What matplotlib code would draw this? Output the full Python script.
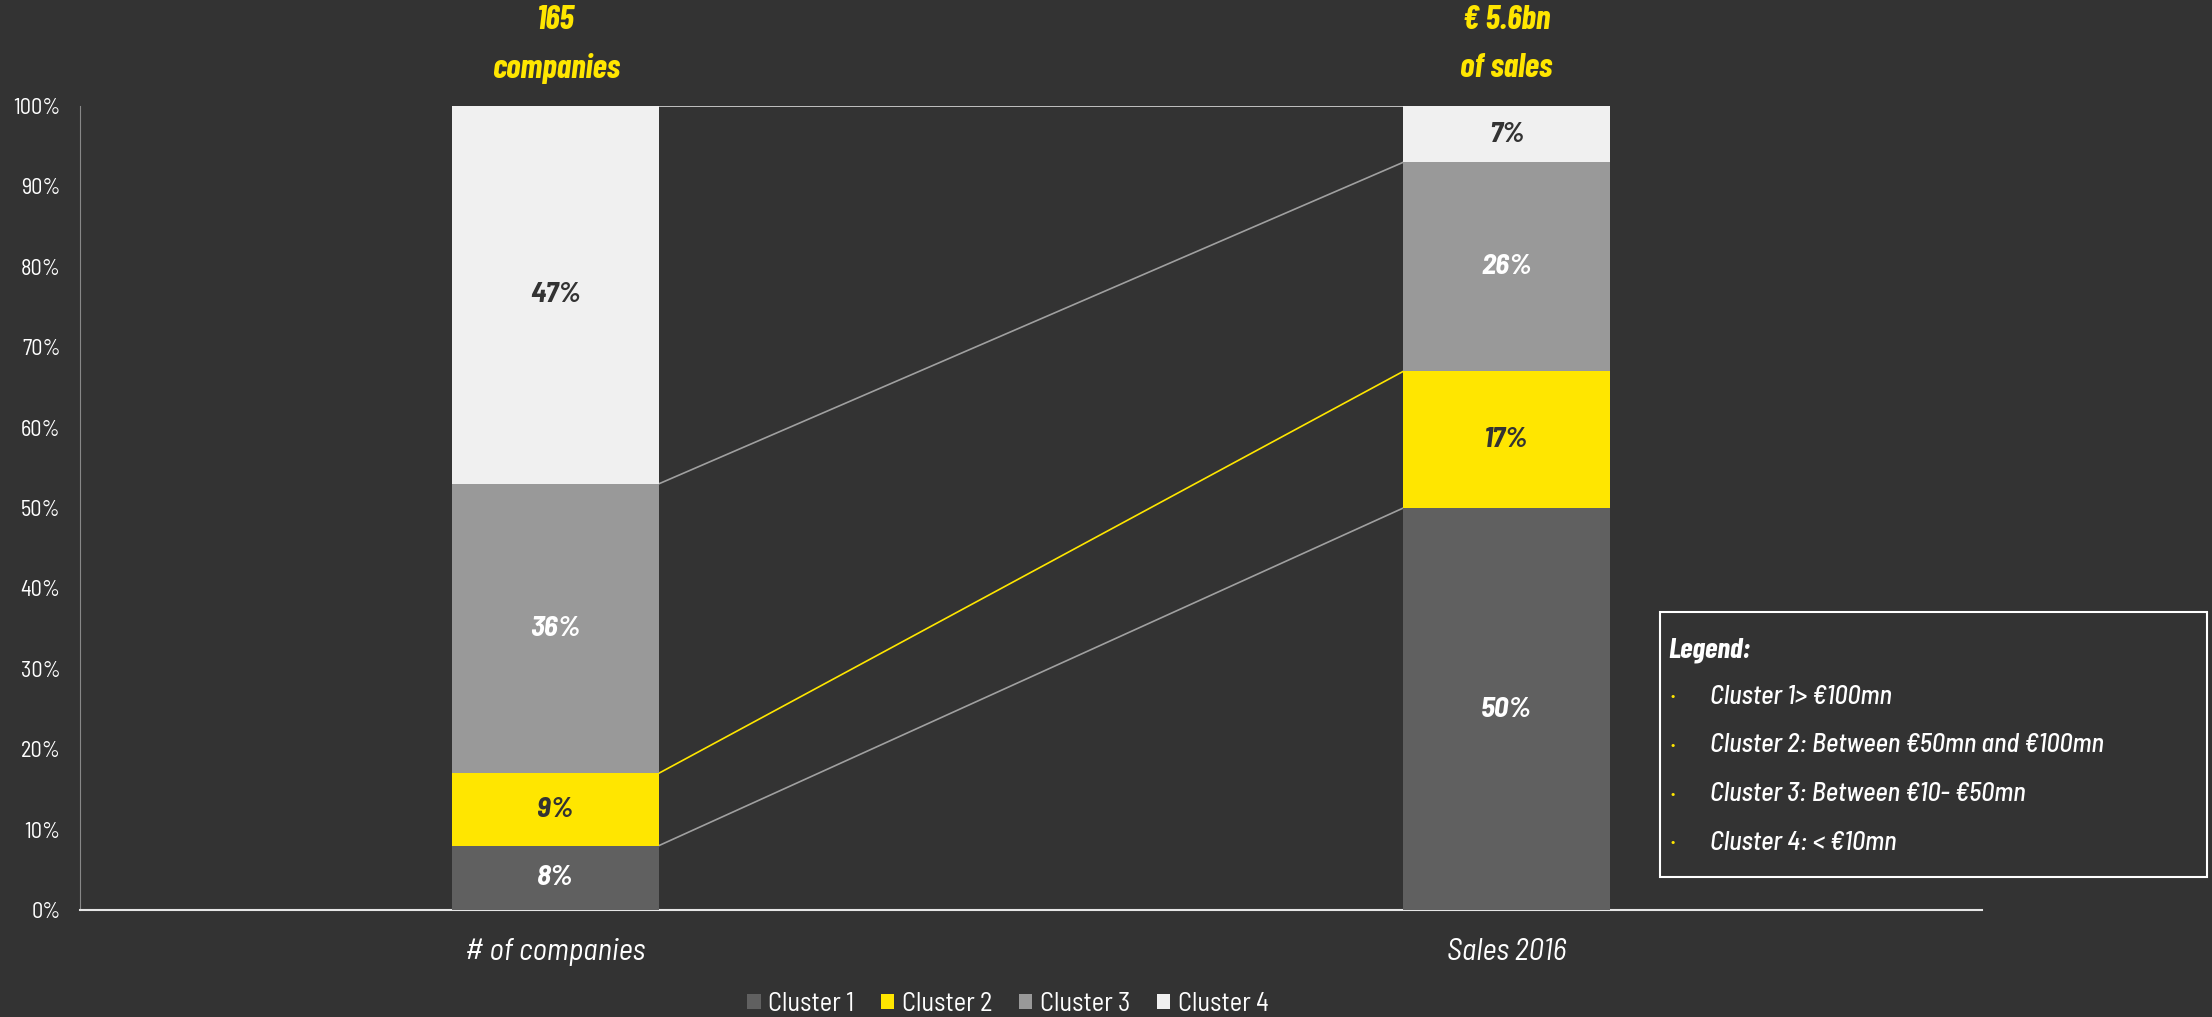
import matplotlib.pyplot as plt
from matplotlib.patches import Patch, Rectangle
from matplotlib.transforms import blended_transform_factory

plt.rcParams['font.family'] = ['Barlow Semi Condensed', 'DejaVu Sans']
BOLD_FONT = ['Barlow Condensed', 'DejaVu Sans']

# data
categories = ["# of companies", "Sales 2016"]
clusters = ["Cluster 1", "Cluster 2", "Cluster 3", "Cluster 4"]
shares = {
    "Cluster 1": [8, 50],
    "Cluster 2": [9, 17],
    "Cluster 3": [36, 26],
    "Cluster 4": [47, 7],
}
top_labels = [("165", "companies"), ("\u20ac 5.6bn", "of sales")]
legend_lines = ["Cluster 1> \u20ac100mn",
                "Cluster 2: Between \u20ac50mn and \u20ac100mn",
                "Cluster 3: Between \u20ac10- \u20ac50mn",
                "Cluster 4: < \u20ac10mn"]

bg = "#333333"
colors = {"Cluster 1": "#606060", "Cluster 2": "#FFE600",
          "Cluster 3": "#999999", "Cluster 4": "#F0F0F0"}
label_colors = {"Cluster 1": "white", "Cluster 2": "#333333",
                "Cluster 3": "white", "Cluster 4": "#333333"}
line_colors = {"Cluster 1": "#a0a0a0", "Cluster 2": "#FFE600",
               "Cluster 3": "#a0a0a0", "Cluster 4": "#d9d9d9"}

fig = plt.figure(figsize=(22.12, 10.17), dpi=100, facecolor=bg)
ax = fig.add_axes([0.0362, 0.1052, 0.8598, 0.7906])
ax.set_facecolor(bg)

x = [0, 1]
width = 0.217
bottom = [0, 0]
for c in clusters:
    vals = shares[c]
    ax.bar(x, vals, width, bottom=bottom, color=colors[c], zorder=3)
    for xi, v, b in zip(x, vals, bottom):
        ax.text(xi, b + v / 2, f"{v}%", ha="center", va="center",
                color=label_colors[c], fontsize=21, fontweight="bold",
                fontstyle="italic", zorder=4)
    top = [b + v for b, v in zip(bottom, vals)]
    # series lines between the bars
    ax.plot([x[0] + width / 2, x[1] - width / 2], top,
            color=line_colors[c], lw=1.2, zorder=2)
    bottom = top

ax.set_xlim(-0.5, 1.5)
ax.set_ylim(0, 100)
ax.set_yticks(range(0, 101, 10))
ax.set_yticklabels([f"{t}%" for t in range(0, 101, 10)])
ax.set_xticks(x)
ax.set_xticklabels(categories, fontsize=22, fontstyle="italic")
ax.tick_params(axis="y", colors="white", labelsize=16, length=0, pad=14)
ax.tick_params(axis="x", colors="white", length=0, pad=20)
for s in ["top", "right"]:
    ax.spines[s].set_visible(False)
ax.spines["left"].set_color("#888888")
ax.spines["bottom"].set_color("#e6e6e6")
ax.spines["bottom"].set_linewidth(1.5)

trans = blended_transform_factory(ax.transData, fig.transFigure)
for xi, (l1, l2) in zip(x, top_labels):
    ax.text(xi, 0.980, l1, transform=trans, ha="center", va="center", family=BOLD_FONT,
            color="#FFE600", fontsize=24, fontweight="bold", fontstyle="italic")
    ax.text(xi, 0.933, l2, transform=trans, ha="center", va="center", family=BOLD_FONT,
            color="#FFE600", fontsize=24, fontweight="bold", fontstyle="italic")

# legend box on the right
fig.patches.append(Rectangle((1660 / 2212, 1 - 877 / 1017), 547 / 2212, 265 / 1017,
                             transform=fig.transFigure, facecolor="none",
                             edgecolor="white", lw=1.5))
fig.text(1668 / 2212, 1 - 650 / 1017, "Legend:", color="white", fontsize=21,
         family=BOLD_FONT, fontweight="bold", fontstyle="italic", va="center")
for i, line in enumerate(legend_lines):
    yy = 1 - (697 + i * 48.5) / 1017
    fig.text(1673 / 2212, yy, "\u2022", color="#FFE600", fontsize=10,
             ha="center", va="center")
    fig.text(1710 / 2212, yy, line, color="white", fontsize=19,
             fontweight="medium", fontstyle="italic", va="center")

handles = [Patch(facecolor=colors[c], edgecolor="none") for c in clusters]
fig.legend(handles, clusters, loc="center", bbox_to_anchor=(1008 / 2212, 0.0128),
           ncol=4, frameon=False, labelcolor="white", fontsize=19,
           handlelength=0.5, handleheight=0.5, handletextpad=0.3,
           columnspacing=1.0)

fig.savefig("out.png", dpi=100, facecolor=bg)
